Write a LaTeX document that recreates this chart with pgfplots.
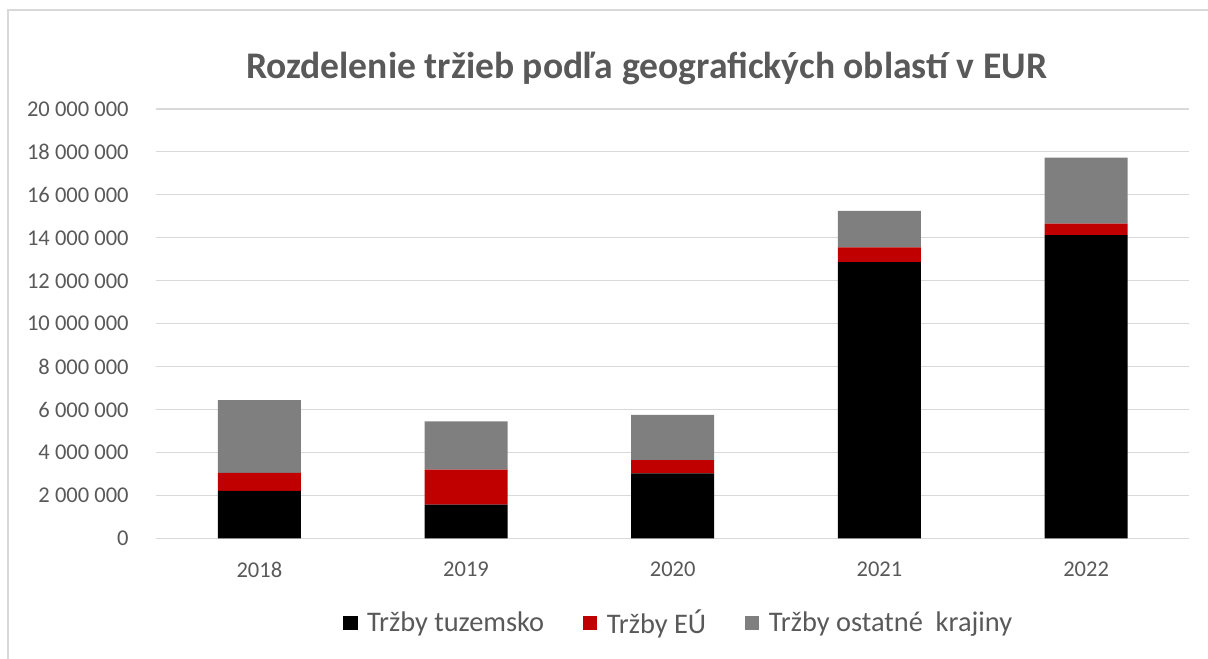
\documentclass[border=0pt]{standalone}
\usepackage{pgfplots}
\pgfplotsset{compat=1.18}
\usepackage{fontspec}
\setmainfont{Carlito}
\definecolor{txt}{HTML}{595959}
\definecolor{gridc}{HTML}{D9D9D9}
\definecolor{eured}{HTML}{C00000}
\definecolor{ostgray}{HTML}{7F7F7F}
\begin{document}
\begin{tikzpicture}
\useasboundingbox (0pt,0pt) rectangle (906pt,494.25pt);
\draw[gridc, line width=0.8pt] (6pt,0pt) -- (6pt,486.75pt) -- (906pt,486.75pt);
\node[font=\fontsize{28.2}{33}\selectfont\bfseries, text=txt] at (485pt,443pt) {Rozdelenie tržieb podľa geografických oblastí v EUR};
\begin{axis}[
  at={(117pt,90.4pt)}, anchor=south west,
  scale only axis, width=775.1pt, height=322.1pt,
  ybar stacked, bar width=62.25pt,
  xmin=-0.5, xmax=4.5, ymin=0, ymax=20000000,
  xtick={0,1,2,3,4}, xticklabels={2018,2019,2020,2021,2022},
  ytick={0,2000000,4000000,6000000,8000000,10000000,12000000,14000000,16000000,18000000,20000000},
  yticklabels={0,2 000 000,4 000 000,6 000 000,8 000 000,10 000 000,12 000 000,14 000 000,16 000 000,18 000 000,20 000 000},
  scaled y ticks=false,
  ymajorgrids, grid style={gridc, line width=0.8pt},
  axis x line*=bottom, axis y line*=left,
  x axis line style={gridc, line width=0.8pt, -},
  y axis line style={draw=none},
  major tick length=0pt,
  tick label style={font=\fontsize{16.9}{20}\selectfont, text=txt},
  yticklabel style={xshift=-17pt},
  xticklabel style={yshift=-14pt},
  legend style={at={(0.506,-0.197)}, anchor=center, draw=none, fill=none,
    font=\fontsize{21.3}{25}\selectfont, text=txt, legend columns=3,
    /tikz/every even column/.append style={column sep=27pt},
    /tikz/every odd column/.append style={column sep=5pt}},
  legend image code/.code={\fill[#1] (0pt,-5.5pt) rectangle (11pt,5.5pt);},
]
\addplot[fill=black, draw=none] coordinates {(0,2220000) (1,1570000) (2,3030000) (3,12870000) (4,14130000)};
\addplot[fill=eured, draw=none] coordinates {(0,840000) (1,1630000) (2,620000) (3,690000) (4,530000)};
\addplot[fill=ostgray, draw=none] coordinates {(0,3380000) (1,2250000) (2,2110000) (3,1690000) (4,3080000)};
\legend{Tržby tuzemsko, Tržby EÚ, Tržby ostatné\ \ krajiny}
\end{axis}
\end{tikzpicture}
\end{document}
